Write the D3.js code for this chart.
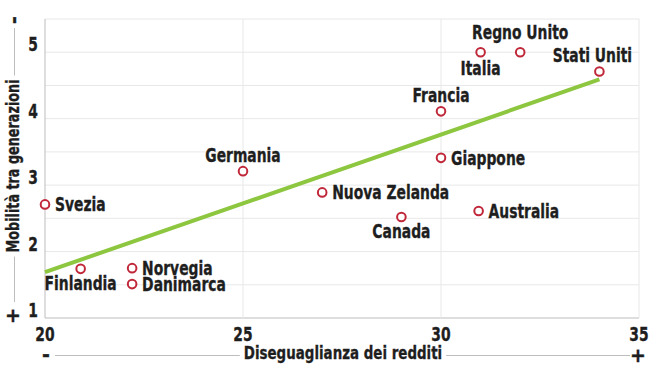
<!DOCTYPE html>
<html>
<head>
<meta charset="utf-8">
<script src="https://cdn.jsdelivr.net/npm/d3@7"></script>
<style>
  html, body { margin: 0; padding: 0; background: #fff; }
  svg { display: block; }
  text { font-family: "DejaVu Sans", sans-serif; font-weight: bold; fill: #1e1e1e; stroke: #1e1e1e; stroke-width: 0.35px; }
</style>
</head>
<body>
<svg id="chart" width="650" height="380"></svg>
<script>
// ---- data ----
const countries  = ["Svezia", "Finlandia", "Norvegia", "Danimarca", "Germania", "Nuova Zelanda", "Canada", "Giappone", "Australia", "Francia", "Italia", "Regno Unito", "Stati Uniti"];
const inequality = [20.0, 20.9, 22.2, 22.2, 25.0, 27.0, 29.0, 30.0, 30.95, 30.0, 31.0, 32.0, 34.0];
const mobility   = [2.71, 1.74, 1.75, 1.51, 3.21, 2.89, 2.52, 3.41, 2.61, 4.11, 5.0, 5.0, 4.71];
const trendX = [20, 34];
const trendY = [1.69, 4.59];
const xTicks = [20, 25, 30, 35];
const yTicks = [1, 2, 3, 4, 5];
const yGrid  = [1, 1.5, 2, 2.5, 3, 3.5, 4, 4.5, 5, 5.5];
const xTitle = "Diseguaglianza dei redditi";
const yTitle = "Mobilità tra generazioni";

// ---- label placement (presentation only) ----
const placement = {
  "Svezia":        {pos: "right"},
  "Finlandia":     {pos: "below"},
  "Norvegia":      {pos: "right"},
  "Danimarca":     {pos: "right"},
  "Germania":      {pos: "above"},
  "Nuova Zelanda": {pos: "right"},
  "Canada":        {pos: "below"},
  "Giappone":      {pos: "right"},
  "Australia":     {pos: "right"},
  "Francia":       {pos: "above"},
  "Italia":        {pos: "below", dy: 2},
  "Regno Unito":   {pos: "above", dy: -4},
  "Stati Uniti":   {pos: "above", dx: -7}
};

const svg = d3.select("#chart");
const x = d3.scaleLinear().domain([20, 35]).range([45, 639]);
const y = d3.scaleLinear().domain([1, 5.5]).range([318, 19]);

const FS = 19;
const SQ = 0.73; // horizontal condensing factor

function condense(sel, f) {
  sel.each(function () {
    const len = this.getComputedTextLength();
    d3.select(this).attr("textLength", len * (f || SQ)).attr("lengthAdjust", "spacingAndGlyphs");
  });
  return sel;
}

// grid
svg.append("g").selectAll("line").data(yGrid).join("line")
  .attr("x1", x(20)).attr("x2", x(35))
  .attr("y1", d => y(d)).attr("y2", d => y(d))
  .attr("stroke", d => d === 1 ? "#bdbdbd" : "#e8e8e8").attr("stroke-width", 1);
svg.append("g").selectAll("line").data(xTicks).join("line")
  .attr("x1", d => x(d)).attr("x2", d => x(d))
  .attr("y1", y(5.5)).attr("y2", y(1))
  .attr("stroke", d => d === 20 ? "#bdbdbd" : "#e8e8e8").attr("stroke-width", 1);

// tick labels
svg.append("g").selectAll("text").data(yTicks).join("text")
  .attr("x", x(20) - 7).attr("y", d => y(d) - 1)
  .attr("text-anchor", "end").attr("font-size", FS)
  .text(d => d).call(condense);
svg.append("g").selectAll("text").data(xTicks).join("text")
  .attr("x", d => x(d)).attr("y", y(1) + 23)
  .attr("text-anchor", "middle").attr("font-size", FS)
  .text(d => d).call(condense);

// x title with guide line
const xt = svg.append("text").attr("x", 343).attr("y", 359)
  .attr("text-anchor", "middle").attr("font-size", 18).text(xTitle).call(condense, 0.745);
const xb = xt.node().getBBox();
svg.append("line").attr("x1", 55).attr("x2", xb.x - 4).attr("y1", 355.5).attr("y2", 355.5).attr("stroke", "#bdbdbd");
svg.append("line").attr("x1", xb.x + xb.width + 4).attr("x2", 630).attr("y1", 355.5).attr("y2", 355.5).attr("stroke", "#bdbdbd");
svg.append("text").attr("x", 46).attr("y", 361).attr("text-anchor", "middle").attr("font-size", FS).text("-");
svg.append("text").attr("x", 638).attr("y", 362).attr("text-anchor", "middle").attr("font-size", FS).text("+");

// y title with guide line
const yt = svg.append("text").attr("transform", "translate(19,166) rotate(-90)")
  .attr("text-anchor", "middle").attr("font-size", 18).text(yTitle).call(condense, 0.71);
const yLen = +yt.attr("textLength");
svg.append("line").attr("x1", 14.5).attr("x2", 14.5).attr("y1", 28).attr("y2", 166 - yLen / 2 - 4).attr("stroke", "#bdbdbd");
svg.append("line").attr("x1", 14.5).attr("x2", 14.5).attr("y1", 166 + yLen / 2 + 4).attr("y2", 302).attr("stroke", "#bdbdbd");
svg.append("text").attr("transform", "translate(20,20) rotate(-90)").attr("text-anchor", "middle").attr("font-size", FS).text("-");
svg.append("text").attr("x", 13).attr("y", 322).attr("text-anchor", "middle").attr("font-size", FS).text("+");

// trend line
svg.append("line")
  .attr("x1", x(trendX[0])).attr("y1", y(trendY[0]))
  .attr("x2", x(trendX[1])).attr("y2", y(trendY[1]))
  .attr("stroke", "#8dc63f").attr("stroke-width", 4);

// points
const pts = countries.map((c, i) => ({c, xv: inequality[i], yv: mobility[i]}));
svg.append("g").selectAll("circle").data(pts).join("circle")
  .attr("cx", d => x(d.xv)).attr("cy", d => y(d.yv)).attr("r", 4.3)
  .attr("fill", "#fff").attr("stroke", "#c0283a").attr("stroke-width", 2);

// labels
svg.append("g").selectAll("text").data(pts).join("text")
  .attr("font-size", FS)
  .attr("text-anchor", d => placement[d.c].pos === "right" ? "start" : "middle")
  .attr("x", d => {
    const p = placement[d.c];
    const base = x(d.xv) + (p.pos === "right" ? 10 : 0);
    return base + (p.dx || 0);
  })
  .attr("y", d => {
    const p = placement[d.c];
    const cy = y(d.yv);
    let v = p.pos === "right" ? cy + 7 : p.pos === "above" ? cy - 9 : cy + 21;
    return v + (p.dy || 0);
  })
  .text(d => d.c).call(condense);
</script>
</body>
</html>
